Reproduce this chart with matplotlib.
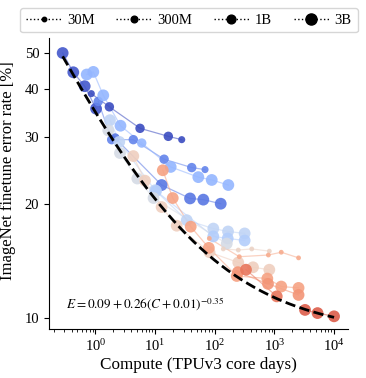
import numpy as np
import matplotlib
matplotlib.use("Agg")
import matplotlib.pyplot as plt
from matplotlib.lines import Line2D
import matplotlib.ticker as ticker

plt.rcParams["font.family"] = "Liberation Serif"
plt.rcParams["mathtext.fontset"] = "stix"

# Marker area per dataset size (scatter "s")
size_area = {"30M": 12, "300M": 26, "1B": 46, "3B": 72}
legend_ms = {"30M": 3.2, "300M": 4.8, "1B": 6.3, "3B": 8.0}
dataset_sizes = ["30M", "300M", "1B", "3B"]

# Each series: coolwarm colour position, compute (TPUv3 core days), error [%], dataset size per point
series_color = [0.03, 0.0, 0.13, 0.27, 0.10, 0.40, 0.36, 0.47, 0.58, 0.73, 0.76, 0.83, 0.88, 0.56, 0.70]
series_compute = [
    [0.284, 0.428, 0.664, 1.03],
    [0.857, 1.72, 5.61, 16.7, 28.0],
    [1.12, 1.88, 4.33, 14.2, 41.2, 68.8],
    [0.718, 0.926, 1.36, 2.64, 5.99, 18.3, 53.1, 89.1, 169],
    [2.14, 12.9, 38.6, 64.4, 126],
    [1.76, 2.52, 10.0, 34.0, 94.7, 167, 317],
    [10.4, 94.7, 165, 317],
    [1.65, 2.59, 5.05, 9.44, 159],
    [4.33, 6.8, 12.9, 23.1, 81.9, 248, 438, 821],
    [13.5, 19.8, 39.6, 79.6, 234, 760, 1300, 2535],
    [244, 780, 2535],
    [334, 1093],
    [3254, 5272, 9960],
    [139, 248, 417, 821],
    [81.2, 258, 791, 1300, 2535],
]
series_error = [
    [49.9, 44.4, 40.8, 35.6],
    [39.0, 36.0, 31.6, 30.1, 29.5],
    [37.2, 29.5, 29.5, 26.2, 24.9, 24.6],
    [43.8, 44.5, 38.6, 32.1, 28.9, 25.0, 23.5, 23.1, 22.4],
    [29.8, 22.4, 20.65, 20.5, 20.0],
    [33.2, 29.1, 21.7, 18.1, 17.2, 16.9, 16.7],
    [21.6, 16.4, 16.2, 16.0],
    [31.2, 27.2, 23.3, 20.7, 15.7],
    [26.7, 23.0, 19.6, 17.5, 14.9, 14.0, 13.6, 13.4],
    [24.5, 20.7, 17.4, 15.3, 12.9, 12.7, 12.1, 12.0],
    [13.2, 12.3, 11.5],
    [13.4, 11.4],
    [10.5, 10.3, 10.1],
    [15.2, 15.1, 15.2, 15.0],
    [16.2, 14.5, 14.65, 14.9, 14.4],
]
series_data = [
    ["3B", "3B", "3B", "3B"],
    ["300M", "1B", "1B", "1B", "300M"],
    ["1B", "1B", "1B", "1B", "1B", "300M"],
    ["3B", "3B", "3B", "3B", "1B", "3B", "3B", "3B", "3B"],
    ["1B", "3B", "3B", "3B", "3B"],
    ["3B", "3B", "3B", "3B", "3B", "3B", "3B"],
    ["3B", "3B", "3B", "3B"],
    ["3B", "3B", "3B", "3B", "3B"],
    ["3B", "3B", "3B", "3B", "3B", "3B", "3B", "3B"],
    ["3B", "3B", "3B", "3B", "3B", "3B", "3B", "3B"],
    ["3B", "3B", "3B"],
    ["3B", "3B"],
    ["3B", "3B", "3B"],
    ["30M", "30M", "30M", "30M"],
    ["30M", "30M", "30M", "30M", "30M"],
]

# Saturating power-law fit
fit_a, fit_b, fit_c, fit_d = 0.09, 0.26, 0.01, -0.35
fit_range = (0.284, 9960)

fig = plt.figure(figsize=(3.66, 3.78), dpi=100)
ax = fig.add_axes([0.134, 0.130, 0.817, 0.769])
cmap = plt.get_cmap("coolwarm")

for c, xs, ys, ds in zip(series_color, series_compute, series_error, series_data):
    col = cmap(c)
    ax.plot(xs, ys, "-", color=col, lw=0.9, alpha=0.55, zorder=1)
    ax.scatter(xs, ys, s=[size_area[d] for d in ds], color=col, alpha=0.9,
               edgecolors="none", zorder=2)

xf = np.logspace(np.log10(fit_range[0]), np.log10(fit_range[1]), 200)
yf = 100 * (fit_a + fit_b * (xf + fit_c) ** fit_d)
ax.plot(xf, yf, "--", color="black", lw=2.0, zorder=5)

ax.text(0.057, 0.086, r"$E = 0.09 + 0.26(C + 0.01)^{-0.35}$", transform=ax.transAxes,
        fontsize=9.5, va="center", ha="left")

ax.set_xscale("log")
ax.set_yscale("log")
ax.set_xlim(0.168, 17100)
ax.set_ylim(9.36, 54.6)
ax.set_yticks([10, 20, 30, 40, 50])
ax.yaxis.set_major_formatter(ticker.ScalarFormatter())
ax.yaxis.set_minor_locator(ticker.NullLocator())
ax.set_xticks([1, 10, 100, 1000, 10000])
ax.tick_params(labelsize=10.5)
ax.set_xlabel("Compute (TPUv3 core days)", fontsize=12.3, labelpad=2)
ax.set_ylabel("ImageNet finetune error rate [%]", fontsize=12)
ax.yaxis.set_label_coords(-0.11, 0.546)
for s in ["top", "right"]:
    ax.spines[s].set_visible(False)

handles = [Line2D([0], [0], color="black", ls=":", lw=1, marker="o",
                  markersize=legend_ms[d]) for d in dataset_sizes]
fig.legend(handles, dataset_sizes, loc="center", bbox_to_anchor=(0.516, 0.947),
           ncol=4, fontsize=10.5, handlelength=2.4, columnspacing=1.5,
           handletextpad=0.4, frameon=True, edgecolor="#cccccc")

fig.savefig("out.png", dpi=100)
